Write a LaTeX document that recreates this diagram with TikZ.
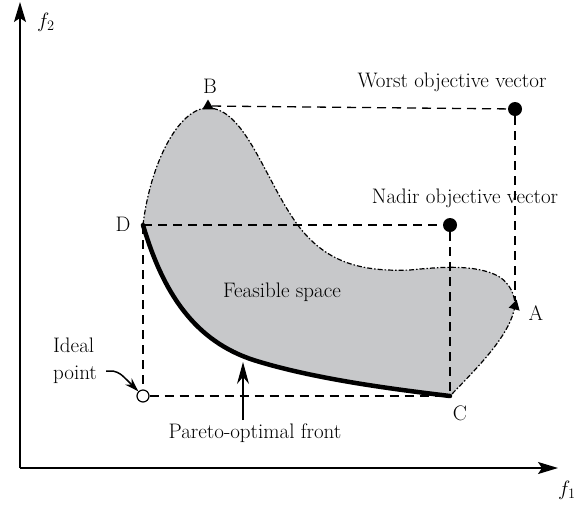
\documentclass[tikz,border=0pt]{standalone}
\usepackage{tikz}
\usetikzlibrary{arrows.meta}
\usetikzlibrary{calc}
\usetikzlibrary{shapes.geometric}
\definecolor{feasgray}{RGB}{199,200,202}

\begin{document}
\begin{tikzpicture}[ x=1pt, y=-1pt, >=Stealth,
      axis/.style={->, line width=1.4pt, >={Stealth[length=20pt,width=12pt,inset=4pt]}},
      guide/.style={line width=1.3pt, dash pattern=on 9pt off 6pt},
      boundary/.style={line width=1.2pt, dash pattern=on 5pt off 2pt on 1.5pt off 2pt},
      front/.style={line width=4.5pt, line cap=round},
      dot/.style={circle, fill=black, inner sep=0pt, minimum size=14pt},
      tri/.style={regular polygon, regular polygon sides=3, fill=black,
        inner sep=0pt, minimum size=13pt},
      every node/.style={font=\fontsize{21}{27}\selectfont} ]

      \useasboundingbox (0,0) rectangle (586,504);

      % Points
      \coordinate (O) at (20,468);
      \coordinate (B) at (208,108);
      \coordinate (D) at (143,225);
      \coordinate (A) at (515,306);
      \coordinate (C) at (450,396);

      % Feasible space
      \fill[feasgray] (D) .. controls (150,165) and (178,108) .. (B)
        .. controls (245,108) and (265,180) .. (297,224)
        .. controls (325,262) and (360,272) .. (410,270)
        .. controls (440,267) and (475,264) .. (498,276)
        .. controls (510,283) and (515,295) .. (A)
        .. controls (510,335) and (480,365) .. (C)
        .. controls (400,390) and (320,380) .. (260,362)
        .. controls (200,345) and (165,300) .. (D) -- cycle;

      % Axes
      \draw[axis] (O) -- (558,468);
      \draw[axis] (O) -- (20,2);
      \node (f1) at (567,490) {$f_1$};
      \node (f2) at (46,22) {$f_2$};

      % Marked vectors
      \node[tri] (Btri) at (208,106) {};
      \node[tri, rotate=-15] (Atri) at (A) {};
      \node[dot] (worst) at (515,109) {};
      \node[dot] (nadir) at (450,225) {};
      \node[circle, draw, line width=1.2pt, inner sep=0pt, minimum size=12pt]
        (ideal) at (143,396) {};

      % Dashed guides
      \draw[guide] (Btri) -- (worst);
      \draw[guide] (worst) -- (Atri);
      \draw[guide] (D) -- (nadir);
      \draw[guide] (nadir) -- (C);
      \draw[guide] (D) -- (ideal);
      \draw[guide] (ideal) -- (C);

      % Boundary of the feasible space
      \draw[boundary] (D) .. controls (150,165) and (178,108) .. (B)
        .. controls (245,108) and (265,180) .. (297,224)
        .. controls (325,262) and (360,272) .. (410,270)
        .. controls (440,267) and (475,264) .. (498,276)
        .. controls (510,283) and (515,295) .. (A)
        .. controls (510,335) and (480,365) .. (C);

      % Pareto-optimal front
      \draw[front] (D) .. controls (165,300) and (200,345) .. (260,362)
        .. controls (320,380) and (400,390) .. (C);
      \coordinate (frontpt) at (243,362);

      % Labels
      \node (Blab) at (210,86) {B};
      \node (Dlab) at (123,224) {D};
      \node (Alab) at (536,313) {A};
      \node (Clab) at (460,413) {C};
      \node (worstlab) at (452,82) {Worst objective vector};
      \node (nadirlab) at (465,198) {Nadir objective vector};
      \node (feaslab) at (282,292) {Feasible space};
      \node[align=left] (ideallab) at (75,361) {Ideal\\point};
      \node (frontlab) at (255,433) {Pareto-optimal front};

      % Arrows to the ideal point and the front
      \draw[line width=1.5pt, -{Stealth[length=14pt,width=9pt]}]
        (106,371) -- (113,371) .. controls (120,373) .. (ideal);
      \draw[line width=1.2pt, -{Stealth[length=22pt,width=12pt]}]
        (frontpt |- frontlab.north) -- (frontpt);
    \end{tikzpicture}
\end{document}
